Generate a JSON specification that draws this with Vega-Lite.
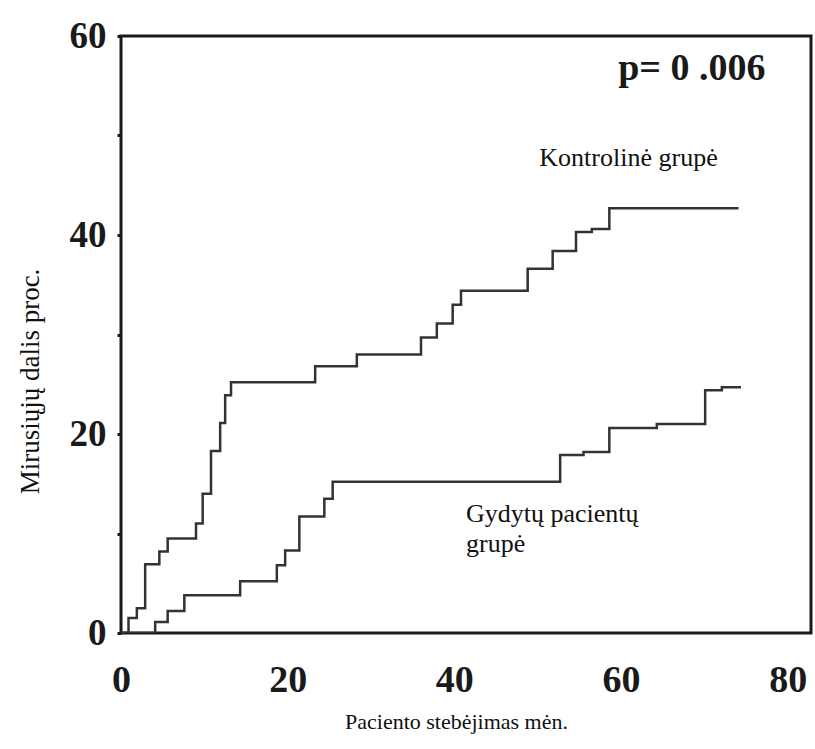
{
  "$schema": "https://vega.github.io/schema/vega-lite/v6.json",
  "width": 690,
  "height": 597,
  "autosize": {"type": "none"},
  "padding": {"left": 121, "top": 36, "right": 4, "bottom": 116},
  "background": "white",
  "config": {
    "view": {"stroke": "#1a1a1a", "strokeWidth": 3},
    "font": "Liberation Serif"
  },
  "datasets": {
    "curves": [
      {"group": "Kontrolinė grupė", "month": 0, "pct": 0},
      {"group": "Kontrolinė grupė", "month": 0.9, "pct": 1.5},
      {"group": "Kontrolinė grupė", "month": 1.9, "pct": 2.5},
      {"group": "Kontrolinė grupė", "month": 2.9, "pct": 6.9},
      {"group": "Kontrolinė grupė", "month": 4.6, "pct": 8.2},
      {"group": "Kontrolinė grupė", "month": 5.6, "pct": 9.5},
      {"group": "Kontrolinė grupė", "month": 9.0, "pct": 11.0},
      {"group": "Kontrolinė grupė", "month": 9.8, "pct": 14.0},
      {"group": "Kontrolinė grupė", "month": 10.8, "pct": 18.3},
      {"group": "Kontrolinė grupė", "month": 11.9, "pct": 21.1},
      {"group": "Kontrolinė grupė", "month": 12.5, "pct": 23.9},
      {"group": "Kontrolinė grupė", "month": 13.2, "pct": 25.2},
      {"group": "Kontrolinė grupė", "month": 23.3, "pct": 26.8},
      {"group": "Kontrolinė grupė", "month": 28.3, "pct": 28.0},
      {"group": "Kontrolinė grupė", "month": 36.0, "pct": 29.7},
      {"group": "Kontrolinė grupė", "month": 37.9, "pct": 31.1},
      {"group": "Kontrolinė grupė", "month": 39.8, "pct": 33.0},
      {"group": "Kontrolinė grupė", "month": 40.8, "pct": 34.4},
      {"group": "Kontrolinė grupė", "month": 48.8, "pct": 36.6},
      {"group": "Kontrolinė grupė", "month": 51.8, "pct": 38.4},
      {"group": "Kontrolinė grupė", "month": 54.6, "pct": 40.3},
      {"group": "Kontrolinė grupė", "month": 56.5, "pct": 40.6},
      {"group": "Kontrolinė grupė", "month": 58.6, "pct": 42.7},
      {"group": "Kontrolinė grupė", "month": 74.1, "pct": 42.7},
      {"group": "Gydytų pacientų grupė", "month": 0, "pct": 0},
      {"group": "Gydytų pacientų grupė", "month": 4.1, "pct": 1.1},
      {"group": "Gydytų pacientų grupė", "month": 5.6, "pct": 2.2},
      {"group": "Gydytų pacientų grupė", "month": 7.6, "pct": 3.8},
      {"group": "Gydytų pacientų grupė", "month": 14.3, "pct": 5.2},
      {"group": "Gydytų pacientų grupė", "month": 18.7, "pct": 6.8},
      {"group": "Gydytų pacientų grupė", "month": 19.7, "pct": 8.3},
      {"group": "Gydytų pacientų grupė", "month": 21.4, "pct": 11.7},
      {"group": "Gydytų pacientų grupė", "month": 24.4, "pct": 13.5},
      {"group": "Gydytų pacientų grupė", "month": 25.4, "pct": 15.2},
      {"group": "Gydytų pacientų grupė", "month": 52.7, "pct": 17.9},
      {"group": "Gydytų pacientų grupė", "month": 55.5, "pct": 18.2},
      {"group": "Gydytų pacientų grupė", "month": 58.6, "pct": 20.6},
      {"group": "Gydytų pacientų grupė", "month": 64.3, "pct": 21.0},
      {"group": "Gydytų pacientų grupė", "month": 70.1, "pct": 24.4},
      {"group": "Gydytų pacientų grupė", "month": 72.1, "pct": 24.7},
      {"group": "Gydytų pacientų grupė", "month": 74.4, "pct": 24.7}
    ]
  },
  "layer": [
    {
      "data": {"name": "curves"},
      "mark": {"type": "line", "interpolate": "step-after", "stroke": "#333333", "strokeWidth": 2.5, "clip": true},
      "encoding": {
        "x": {
          "field": "month", "type": "quantitative",
          "scale": {"domain": [0, 82.8], "nice": false, "zero": false},
          "axis": {
            "title": "Paciento stebėjimas mėn.",
            "values": [0, 20, 40, 60, 80],
            "grid": false,
            "ticks": false,
            "domain": false,
            "labelFont": "Liberation Serif",
            "labelFontWeight": "bold",
            "labelFontSize": 38,
            "labelColor": "#1a1a1a",
            "labelPadding": 28,
            "labelBaseline": "top",
            "labelFlush": false,
            "titleFont": "Liberation Serif",
            "titleFontWeight": "normal",
            "titleFontSize": 22,
            "titleColor": "#111111",
            "titleBaseline": "middle",
            "titleX": 335,
            "titleY": 88
          }
        },
        "y": {
          "field": "pct", "type": "quantitative",
          "scale": {"domain": [0, 60], "nice": false},
          "axis": {
            "title": "Mirusiųjų dalis proc.",
            "values": [0, 10, 20, 30, 40, 50, 60],
            "labelExpr": "datum.value % 20 == 0 ? datum.label : ''",
            "grid": false,
            "domain": false,
            "ticks": true,
            "tickSize": 4,
            "tickWidth": 3,
            "tickColor": "#1a1a1a",
            "labelFont": "Liberation Serif",
            "labelFontWeight": "bold",
            "labelFontSize": 37,
            "labelColor": "#1a1a1a",
            "labelPadding": 11,
            "labelFlush": false,
            "titleFont": "Liberation Serif",
            "titleFontWeight": "normal",
            "titleFontSize": 27,
            "titleColor": "#111111",
            "titleBaseline": "middle",
            "titleX": -91,
            "titleY": 345
          }
        },
        "detail": {"field": "group"}
      }
    },
    {
      "data": {"values": [{"label": "p= 0 .006", "month": 68.5, "pct": 55.6}]},
      "mark": {"type": "text", "font": "Liberation Serif", "fontWeight": "bold", "fontSize": 38, "align": "center", "baseline": "alphabetic", "color": "#1a1a1a"},
      "encoding": {
        "x": {"field": "month", "type": "quantitative"},
        "y": {"field": "pct", "type": "quantitative"},
        "text": {"field": "label"}
      }
    },
    {
      "data": {"values": [
        {"label": "Kontrolinė grupė", "month": 50.2, "pct": 46.9},
        {"label": "Gydytų pacientų", "month": 41.4, "pct": 11.2},
        {"label": "grupė", "month": 41.4, "pct": 8.1}
      ]},
      "mark": {"type": "text", "font": "Liberation Serif", "fontSize": 26, "align": "left", "baseline": "alphabetic", "color": "#111111"},
      "encoding": {
        "x": {"field": "month", "type": "quantitative"},
        "y": {"field": "pct", "type": "quantitative"},
        "text": {"field": "label"}
      }
    }
  ]
}
